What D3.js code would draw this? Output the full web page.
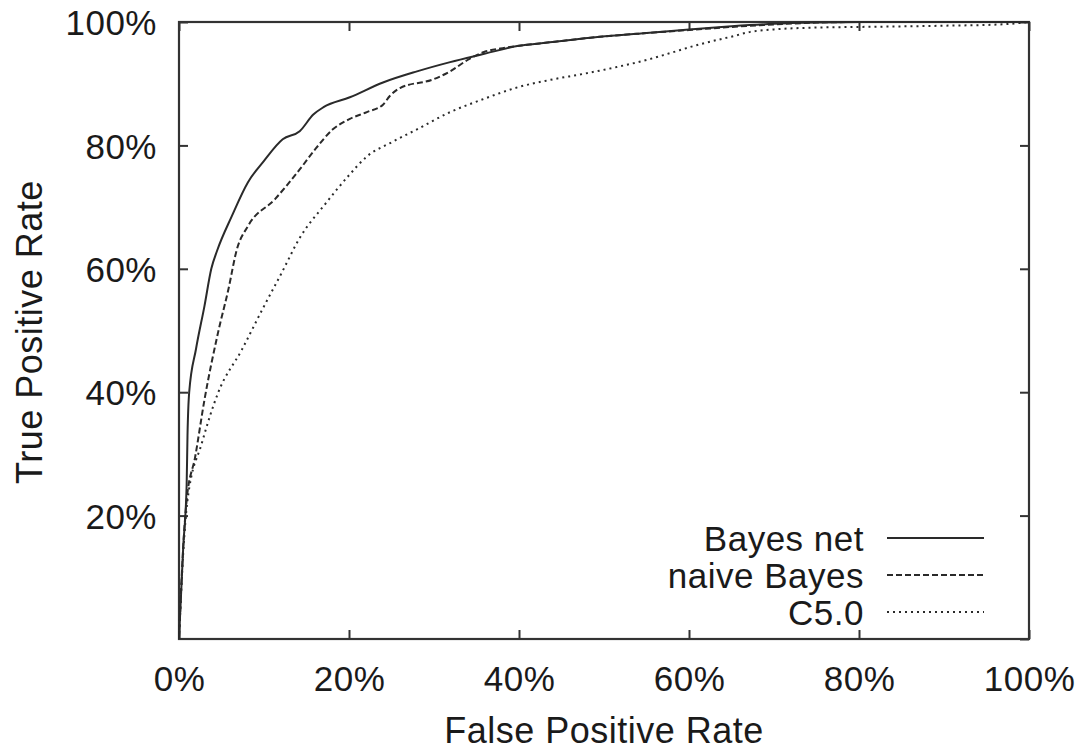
<!DOCTYPE html>
<html>
<head>
<meta charset="utf-8">
<script src="https://cdn.jsdelivr.net/npm/d3@7"></script>
<style>
  body { margin: 0; background: #fff; }
  svg text { font-family: "Liberation Sans", Arial, sans-serif; fill: #1a1a1a; letter-spacing: 0.5px; }
</style>
</head>
<body>
<svg id="chart" width="1081" height="750"></svg>
<script>
// ROC curves, values in percent (false positive rate, true positive rate)
const bayesNetFpr = [0, 0.5, 0.9, 1.0, 1.2, 2.0, 3.0, 3.8, 4.5, 6.2, 8.1, 10, 12.2, 14.2, 15.8, 17, 20.1, 24, 28, 31.9, 35.8, 39.8, 43.6, 49.5, 55, 60, 65, 70, 75, 80, 100];
const bayesNetTpr = [0, 15, 25, 33, 40, 47, 54, 60, 63, 68.5, 74, 77.5, 81, 82.3, 85, 86.2, 87.8, 90.2, 92, 93.5, 94.8, 96.1, 96.7, 97.6, 98.2, 98.8, 99.3, 99.7, 99.9, 100, 100];

const naiveBayesFpr = [0, 0.5, 0.9, 1.9, 3, 4.6, 5.8, 6.8, 8.1, 11.3, 14.2, 16.1, 18.1, 20.1, 22.1, 24, 24.8, 26, 29.9, 31.9, 33.9, 35.8, 37.8, 39.8, 43.6, 49.5, 55, 60, 65, 70, 75, 80, 100];
const naiveBayesTpr = [0, 15, 22.5, 29.5, 38.8, 49.7, 56.6, 63.1, 66.9, 71.3, 76.1, 79.5, 82.6, 84.3, 85.4, 86.6, 88, 89.3, 90.7, 92, 93.8, 95.1, 95.7, 96.1, 96.7, 97.6, 98.2, 98.7, 99.2, 99.6, 99.9, 100, 100];

const c50Fpr = [0, 0.5, 1, 2.7, 4.6, 7.4, 9.8, 12.1, 14.2, 17.2, 19.9, 22.1, 25, 28, 31.9, 35.8, 39.8, 43.6, 47.6, 51.5, 55.4, 57.4, 61.3, 65.2, 67.2, 70, 75, 80.1, 90, 96.6, 100];
const c50Tpr = [0, 14, 22.5, 31.8, 39.9, 46.9, 53.4, 59.4, 65, 70.5, 75, 78.2, 80.5, 82.6, 85.4, 87.5, 89.4, 90.6, 91.6, 92.7, 94, 94.8, 96.4, 97.7, 98.4, 98.8, 99.1, 99.2, 99.4, 99.6, 100];

const seriesNames = ["Bayes net", "naive Bayes", "C5.0"];
const tickValues = [0, 20, 40, 60, 80, 100];

const margin = { top: 22, right: 52, bottom: 111, left: 179 };
const width = 1081, height = 750;
const innerW = width - margin.left - margin.right;
const innerH = height - margin.top - margin.bottom;

const svg = d3.select("#chart");
const g = svg.append("g").attr("transform", `translate(${margin.left},${margin.top})`);

const x = d3.scaleLinear().domain([0, 100]).range([0, innerW]);
const y = d3.scaleLinear().domain([0, 100]).range([innerH, 0]);

const pct = d => d + "%";
const tickLen = 9;

function styleAxis(sel) {
  sel.select(".domain").remove();
  sel.selectAll(".tick line").attr("stroke", "#333").attr("stroke-width", 2);
  sel.selectAll(".tick text").style("font-size", "35px").attr("fill", "#1a1a1a");
}

// bottom and left axes with labels, ticks pointing inward
g.append("g")
  .attr("transform", `translate(0,${innerH})`)
  .call(d3.axisBottom(x).tickValues(tickValues).tickFormat(pct).tickSizeInner(-tickLen).tickSizeOuter(0).tickPadding(27))
  .call(styleAxis);

g.append("g")
  .call(d3.axisLeft(y).tickValues(tickValues.slice(1)).tickFormat(pct).tickSizeInner(-tickLen).tickSizeOuter(0).tickPadding(22))
  .call(styleAxis)
  .selectAll(".tick text").attr("dy", "0.36em");

// mirrored ticks on top and right
g.append("g")
  .call(d3.axisTop(x).tickValues(tickValues).tickFormat("").tickSizeInner(-tickLen).tickSizeOuter(0))
  .call(styleAxis);

g.append("g")
  .attr("transform", `translate(${innerW},0)`)
  .call(d3.axisRight(y).tickValues(tickValues).tickFormat("").tickSizeInner(-tickLen).tickSizeOuter(0))
  .call(styleAxis);

// frame
g.append("rect")
  .attr("x", 0).attr("y", 0)
  .attr("width", innerW).attr("height", innerH)
  .attr("fill", "none")
  .attr("stroke", "#333")
  .attr("stroke-width", 2.2);

const series = [
  { name: seriesNames[0], fpr: bayesNetFpr, tpr: bayesNetTpr, dash: null },
  { name: seriesNames[1], fpr: naiveBayesFpr, tpr: naiveBayesTpr, dash: "6,3" },
  { name: seriesNames[2], fpr: c50Fpr, tpr: c50Tpr, dash: "2,4" }
];

const line = d3.line()
  .x(d => x(d[0]))
  .y(d => y(d[1]))
  .curve(d3.curveMonotoneX);

series.forEach(s => {
  const pts = s.fpr.map((f, i) => [f, s.tpr[i]]);
  g.append("path")
    .datum(pts)
    .attr("d", line)
    .attr("fill", "none")
    .attr("stroke", "#2a2a2a")
    .attr("stroke-width", 2)
    .attr("stroke-dasharray", s.dash);
});

// legend, bottom right inside the frame
const legend = g.append("g").attr("transform", `translate(${innerW - 142},${innerH - 101})`);
series.forEach((s, i) => {
  const row = legend.append("g").attr("transform", `translate(0,${i * 37})`);
  row.append("text")
    .attr("x", -23)
    .attr("y", 0)
    .attr("dy", "0.36em")
    .attr("text-anchor", "end")
    .style("font-size", "35px")
    .text(s.name);
  row.append("line")
    .attr("x1", 0).attr("x2", 97)
    .attr("y1", 0).attr("y2", 0)
    .attr("stroke", "#2a2a2a")
    .attr("stroke-width", 2)
    .attr("stroke-dasharray", s.dash);
});

// axis titles
svg.append("text")
  .attr("x", 604)
  .attr("y", 743)
  .attr("text-anchor", "middle")
  .style("font-size", "36px")
  .text("False Positive Rate");

svg.append("text")
  .attr("transform", "translate(42,332) rotate(-90)")
  .attr("text-anchor", "middle")
  .style("font-size", "36px")
  .text("True Positive Rate");
</script>
</body>
</html>
